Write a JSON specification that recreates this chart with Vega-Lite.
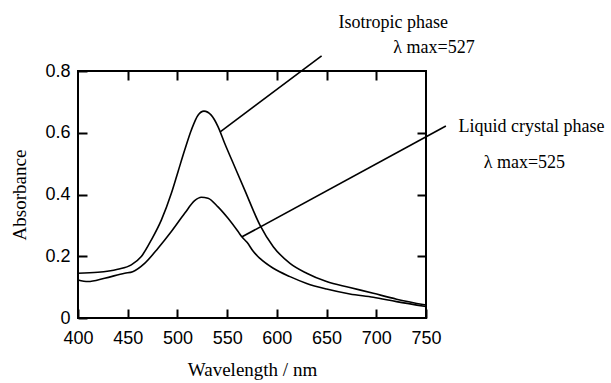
{
  "$schema": "https://vega.github.io/schema/vega-lite/v6.json",
  "width": 348,
  "height": 247,
  "autosize": {"type": "none"},
  "padding": {"left": 78, "top": 71, "right": 185, "bottom": 65},
  "background": "white",
  "config": {
    "view": {"stroke": "black", "strokeWidth": 2},
    "axis": {
      "grid": false,
      "domain": false,
      "ticks": true,
      "tickColor": "black",
      "tickWidth": 2,
      "tickSize": 9,
      "offset": -9,
      "zindex": 2,
      "labelFlush": false,
      "labelOverlap": false,
      "labelColor": "black",
      "labelFont": "Liberation Sans",
      "labelFontSize": 18,
      "titleFont": "Liberation Serif",
      "titleFontSize": 19,
      "titleFontWeight": "normal",
      "titleColor": "black"
    }
  },
  "datasets": {
    "spectra": [
      {"phase": "Isotropic", "wavelength": 400, "absorbance": 0.145},
      {"phase": "Isotropic", "wavelength": 420, "absorbance": 0.148},
      {"phase": "Isotropic", "wavelength": 440, "absorbance": 0.158},
      {"phase": "Isotropic", "wavelength": 453.6, "absorbance": 0.172},
      {"phase": "Isotropic", "wavelength": 463.7, "absorbance": 0.199},
      {"phase": "Isotropic", "wavelength": 473.8, "absorbance": 0.253},
      {"phase": "Isotropic", "wavelength": 483.8, "absorbance": 0.317},
      {"phase": "Isotropic", "wavelength": 493.9, "absorbance": 0.404},
      {"phase": "Isotropic", "wavelength": 500.6, "absorbance": 0.474},
      {"phase": "Isotropic", "wavelength": 507.3, "absorbance": 0.544},
      {"phase": "Isotropic", "wavelength": 514, "absorbance": 0.609},
      {"phase": "Isotropic", "wavelength": 520.7, "absorbance": 0.657},
      {"phase": "Isotropic", "wavelength": 526.7, "absorbance": 0.670},
      {"phase": "Isotropic", "wavelength": 534, "absorbance": 0.657},
      {"phase": "Isotropic", "wavelength": 540.8, "absorbance": 0.620},
      {"phase": "Isotropic", "wavelength": 547.5, "absorbance": 0.566},
      {"phase": "Isotropic", "wavelength": 557.6, "absorbance": 0.490},
      {"phase": "Isotropic", "wavelength": 567.6, "absorbance": 0.415},
      {"phase": "Isotropic", "wavelength": 583, "absorbance": 0.301},
      {"phase": "Isotropic", "wavelength": 596.4, "absorbance": 0.231},
      {"phase": "Isotropic", "wavelength": 613.2, "absorbance": 0.177},
      {"phase": "Isotropic", "wavelength": 630, "absorbance": 0.145},
      {"phase": "Isotropic", "wavelength": 650, "absorbance": 0.118},
      {"phase": "Isotropic", "wavelength": 673.4, "absorbance": 0.099},
      {"phase": "Isotropic", "wavelength": 697, "absorbance": 0.080},
      {"phase": "Isotropic", "wavelength": 720.4, "absorbance": 0.061},
      {"phase": "Isotropic", "wavelength": 750, "absorbance": 0.042},
      {"phase": "Liquid crystal", "wavelength": 400, "absorbance": 0.123},
      {"phase": "Liquid crystal", "wavelength": 410, "absorbance": 0.118},
      {"phase": "Liquid crystal", "wavelength": 426.8, "absorbance": 0.129},
      {"phase": "Liquid crystal", "wavelength": 447, "absorbance": 0.145},
      {"phase": "Liquid crystal", "wavelength": 455, "absorbance": 0.150},
      {"phase": "Liquid crystal", "wavelength": 467, "absorbance": 0.177},
      {"phase": "Liquid crystal", "wavelength": 480.5, "absorbance": 0.226},
      {"phase": "Liquid crystal", "wavelength": 493.9, "absorbance": 0.280},
      {"phase": "Liquid crystal", "wavelength": 507.3, "absorbance": 0.339},
      {"phase": "Liquid crystal", "wavelength": 517.3, "absorbance": 0.380},
      {"phase": "Liquid crystal", "wavelength": 524, "absorbance": 0.391},
      {"phase": "Liquid crystal", "wavelength": 530.7, "absorbance": 0.388},
      {"phase": "Liquid crystal", "wavelength": 540.8, "absorbance": 0.360},
      {"phase": "Liquid crystal", "wavelength": 550.9, "absorbance": 0.323},
      {"phase": "Liquid crystal", "wavelength": 561, "absorbance": 0.280},
      {"phase": "Liquid crystal", "wavelength": 565, "absorbance": 0.262},
      {"phase": "Liquid crystal", "wavelength": 570, "absorbance": 0.245},
      {"phase": "Liquid crystal", "wavelength": 576.4, "absorbance": 0.215},
      {"phase": "Liquid crystal", "wavelength": 583, "absorbance": 0.193},
      {"phase": "Liquid crystal", "wavelength": 596.4, "absorbance": 0.161},
      {"phase": "Liquid crystal", "wavelength": 613.2, "absorbance": 0.134},
      {"phase": "Liquid crystal", "wavelength": 630, "absorbance": 0.112},
      {"phase": "Liquid crystal", "wavelength": 650, "absorbance": 0.094},
      {"phase": "Liquid crystal", "wavelength": 673.4, "absorbance": 0.078},
      {"phase": "Liquid crystal", "wavelength": 697, "absorbance": 0.067},
      {"phase": "Liquid crystal", "wavelength": 720.4, "absorbance": 0.053},
      {"phase": "Liquid crystal", "wavelength": 750, "absorbance": 0.037}
    ],
    "leaders": [
      {"phase": "Isotropic", "x1": 543, "y1": 0.603, "x2": 645, "y2": 0.849},
      {"phase": "Liquid crystal", "x1": 565, "y1": 0.263, "x2": 770, "y2": 0.622}
    ],
    "labels": [
      {"text": "Isotropic phase", "x": 717, "y": 0.955},
      {"text": "λ max=527", "x": 758, "y": 0.874},
      {"text": "Liquid crystal phase", "x": 856, "y": 0.618},
      {"text": "λ max=525", "x": 849, "y": 0.503}
    ]
  },
  "layer": [
    {
      "data": {"name": "spectra"},
      "mark": {"type": "line", "color": "black", "strokeWidth": 1.6, "clip": false, "interpolate": "monotone"},
      "encoding": {
        "x": {
          "field": "wavelength", "type": "quantitative",
          "scale": {"domain": [400, 750], "nice": false, "zero": false},
          "axis": {"orient": "bottom", "values": [400, 450, 500, 550, 600, 650, 700, 750], "title": "Wavelength / nm", "labelPadding": 11, "titlePadding": 13}
        },
        "y": {
          "field": "absorbance", "type": "quantitative",
          "scale": {"domain": [0, 0.8], "nice": false},
          "axis": {"orient": "left", "values": [0, 0.2, 0.4, 0.6, 0.8], "format": "~g", "title": "Absorbance", "labelPadding": 8, "titlePadding": 15}
        },
        "detail": {"field": "phase"}
      }
    },
    {
      "data": {"name": "leaders"},
      "mark": {"type": "rule", "color": "black", "strokeWidth": 1.6, "clip": false},
      "encoding": {
        "x": {
          "field": "x1", "type": "quantitative",
          "axis": {"orient": "top", "values": [450, 500, 550, 600, 650, 700], "labels": false, "title": null}
        },
        "y": {
          "field": "y1", "type": "quantitative",
          "axis": {"orient": "right", "values": [0.2, 0.4, 0.6], "labels": false, "title": null}
        },
        "x2": {"field": "x2"},
        "y2": {"field": "y2"}
      }
    },
    {
      "data": {"name": "labels"},
      "mark": {"type": "text", "font": "Liberation Serif", "fontSize": 18, "color": "black", "align": "center", "baseline": "middle", "clip": false},
      "encoding": {
        "x": {"field": "x", "type": "quantitative", "axis": null},
        "y": {"field": "y", "type": "quantitative", "axis": null},
        "text": {"field": "text"}
      }
    }
  ],
  "resolve": {"axis": {"x": "independent", "y": "independent"}}
}
